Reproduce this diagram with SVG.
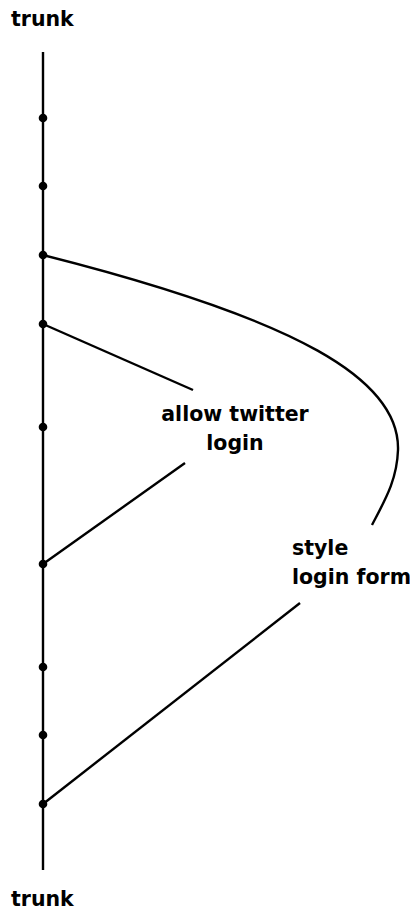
<svg xmlns="http://www.w3.org/2000/svg" width="410" height="910" viewBox="0 0 410 910">
<style>
.lbl{font-family:"DejaVu Sans",sans-serif;font-weight:bold;font-size:20.5px;fill:#000}
.ln{fill:none;stroke:#000;stroke-width:2.4}
.dot{fill:#000}
</style>
<rect width="410" height="910" fill="#fff"/>
<g id="trunk-top"><text class="lbl" x="11" y="26">trunk</text></g>
<g id="trunk-bottom"><text class="lbl" x="11" y="906">trunk</text></g>
<g id="connectors">
<line class="ln" x1="43" y1="52" x2="43" y2="870"/>
<path class="ln" d="M43,255 C300,320 400,380 398,450 C397,480 385,500 372,525"/>
<line class="ln" x1="43" y1="324" x2="193" y2="390"/>
<line class="ln" x1="43" y1="564" x2="185" y2="463"/>
<line class="ln" x1="43" y1="804" x2="300" y2="603"/>
</g>
<g id="commits">
<circle class="dot" cx="43" cy="118" r="4.3"/>
<circle class="dot" cx="43" cy="186" r="4.3"/>
<circle class="dot" cx="43" cy="255" r="4.3"/>
<circle class="dot" cx="43" cy="324" r="4.3"/>
<circle class="dot" cx="43" cy="427" r="4.3"/>
<circle class="dot" cx="43" cy="564" r="4.3"/>
<circle class="dot" cx="43" cy="667" r="4.3"/>
<circle class="dot" cx="43" cy="735" r="4.3"/>
<circle class="dot" cx="43" cy="804" r="4.3"/>
</g>
<g id="allow-twitter-login"><text class="lbl" text-anchor="middle"><tspan x="235" y="421">allow twitter</tspan><tspan x="235" y="450">login</tspan></text></g>
<g id="style-login-form"><text class="lbl"><tspan x="292" y="555">style</tspan><tspan x="292" y="584">login form</tspan></text></g>
</svg>
